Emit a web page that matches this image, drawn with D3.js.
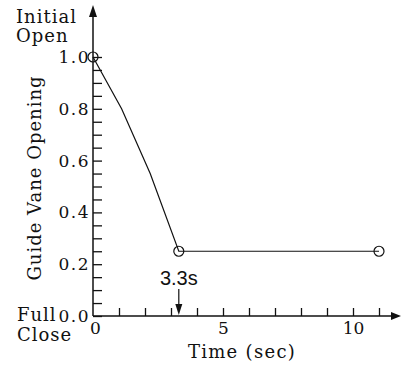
<!DOCTYPE html>
<html>
<head>
<meta charset="utf-8">
<script src="https://cdn.jsdelivr.net/npm/d3@7"></script>
<style>
  body { margin: 0; background: #fff; }
  text { font-family: "DejaVu Serif", serif; fill: #111; }
</style>
</head>
<body>
<div id="viz"></div>
<script>
// valve closing curve
const timeSec = [0, 1.1, 2.2, 3.3, 11];
const opening = [1.0, 0.8, 0.55, 0.25, 0.25];
// the points drawn with an open circle
const markerTime = [0, 3.3, 11];
const markerOpening = [1.0, 0.25, 0.25];
// ticks
const yMinorTicks = d3.range(0, 21).map((i) => i * 0.05);
const yLabelTicks = [0, 0.2, 0.4, 0.6, 0.8, 1.0];
const xMinorTicks = [1, 2, 3, 4, 5, 6, 7, 8, 9, 10, 11];
const xLabelTicks = [0, 5, 10];
const closeTime = 3.3;

const svg = d3.select("#viz")
    .append("svg")
    .attr("width", 402)
    .attr("height", 368);

const x = d3.scaleLinear().domain([0, 11]).range([93, 379]);
const y = d3.scaleLinear().domain([0, 1]).range([316, 57]);

// axis lines with arrow heads
svg.append("line")
    .attr("x1", x(0)).attr("y1", y(0))
    .attr("x2", 394).attr("y2", y(0))
    .attr("stroke", "#111").attr("stroke-width", 1.5);
svg.append("path")
    .attr("d", `M401,${y(0)} L391,${y(0) - 4} L391,${y(0) + 4} Z`)
    .attr("fill", "#111");
svg.append("line")
    .attr("x1", x(0)).attr("y1", y(0))
    .attr("x2", x(0)).attr("y2", 14)
    .attr("stroke", "#111").attr("stroke-width", 1.5);
svg.append("path")
    .attr("d", `M${x(0)},5 L${x(0) - 4},17 L${x(0) + 4},17 Z`)
    .attr("fill", "#111");

// y ticks pointing inwards
const yTicks = svg.append("g")
    .attr("transform", `translate(${x(0)},0)`)
    .call(d3.axisRight(y).tickValues(yMinorTicks).tickSize(9).tickFormat(""));
yTicks.select(".domain").remove();
yTicks.selectAll("line").attr("stroke", "#111").attr("stroke-width", 1.3);

const yLabels = svg.append("g")
    .attr("transform", `translate(${x(0)},0)`)
    .call(d3.axisLeft(y).tickValues(yLabelTicks).tickSize(0).tickPadding(3).tickFormat(d3.format(".1f")));
yLabels.select(".domain").remove();
yLabels.selectAll("text")
    .attr("font-family", "DejaVu Serif")
    .attr("font-size", 17)
    .attr("letter-spacing", 1.5)
    .attr("fill", "#111");

// x ticks pointing inwards
const xTicks = svg.append("g")
    .attr("transform", `translate(0,${y(0)})`)
    .call(d3.axisTop(x).tickValues(xMinorTicks).tickSize(8).tickFormat(""));
xTicks.select(".domain").remove();
xTicks.selectAll("line").attr("stroke", "#111").attr("stroke-width", 1.3);

const xLabels = svg.append("g")
    .attr("transform", `translate(0,${y(0)})`)
    .call(d3.axisBottom(x).tickValues(xLabelTicks).tickSize(0).tickPadding(6));
xLabels.select(".domain").remove();
xLabels.selectAll("text")
    .attr("font-family", "DejaVu Serif")
    .attr("font-size", 17)
    .attr("fill", "#111");
xLabels.selectAll("text").filter((d) => d === 0).attr("dx", 2);

// data line
const line = d3.line()
    .x((d, i) => x(timeSec[i]))
    .y((d, i) => y(opening[i]));
svg.append("path")
    .datum(timeSec)
    .attr("fill", "none")
    .attr("stroke", "#111")
    .attr("stroke-width", 1.2)
    .attr("d", line);

svg.selectAll(".marker")
    .data(markerTime)
    .enter()
    .append("circle")
    .attr("class", "marker")
    .attr("cx", (d) => x(d))
    .attr("cy", (d, i) => y(markerOpening[i]))
    .attr("r", 5)
    .attr("fill", "none")
    .attr("stroke", "#111")
    .attr("stroke-width", 1.2);

// 3.3s annotation
svg.append("text")
    .attr("x", x(closeTime))
    .attr("y", 285)
    .attr("text-anchor", "middle")
    .style("font-family", "'Liberation Sans', Arial, sans-serif")
    .attr("font-size", 20)
    .text("3.3s");
svg.append("line")
    .attr("x1", x(closeTime)).attr("y1", 289)
    .attr("x2", x(closeTime)).attr("y2", 306)
    .attr("stroke", "#111").attr("stroke-width", 1.2);
svg.append("path")
    .attr("d", `M${x(closeTime)},${y(0) - 1} L${x(closeTime) - 3.5},${y(0) - 12} L${x(closeTime) + 3.5},${y(0) - 12} Z`)
    .attr("fill", "#111");

// labels
const labels = [
    { t: "Initial", x: 16, y: 23 },
    { t: "Open", x: 16, y: 42 },
    { t: "Full", x: 17, y: 321 },
    { t: "Close", x: 17, y: 341 }
];
svg.selectAll(".lbl")
    .data(labels)
    .enter()
    .append("text")
    .attr("class", "lbl")
    .attr("x", (d) => d.x)
    .attr("y", (d) => d.y)
    .attr("font-size", 18)
    .attr("letter-spacing", 1)
    .text((d) => d.t);

svg.append("text")
    .attr("x", 242)
    .attr("y", 358)
    .attr("text-anchor", "middle")
    .attr("font-size", 18)
    .attr("letter-spacing", 1.3)
    .text("Time (sec)");

svg.append("text")
    .attr("transform", "translate(41,178) rotate(-90)")
    .attr("text-anchor", "middle")
    .attr("font-size", 18)
    .attr("letter-spacing", 1)
    .text("Guide Vane Opening");
</script>
</body>
</html>
